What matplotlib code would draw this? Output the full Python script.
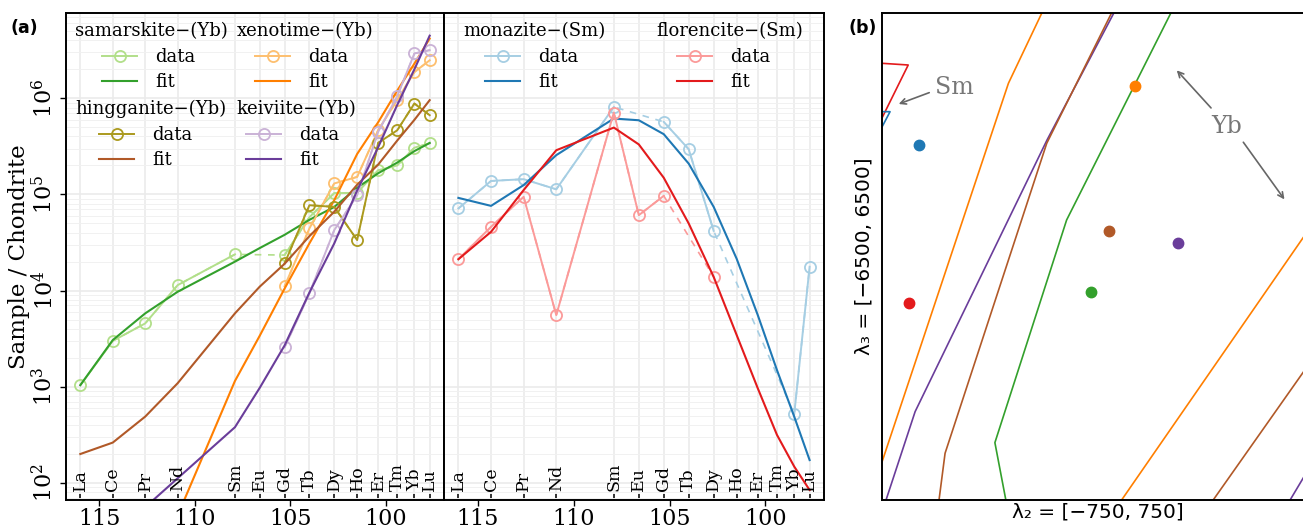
import matplotlib
matplotlib.use('Agg')
import matplotlib.pyplot as plt
import numpy as np
from matplotlib.lines import Line2D
from matplotlib.legend import Legend
from matplotlib.ticker import FixedLocator, LogLocator, NullFormatter

plt.rcParams['font.family'] = ['DejaVu Serif']
plt.rcParams['mathtext.fontset'] = 'dejavuserif'

nan = np.nan

# lanthanides and their ionic radii (pm), used as the x position
elements = ['La', 'Ce', 'Pr', 'Nd', 'Sm', 'Eu', 'Gd', 'Tb', 'Dy', 'Ho', 'Er', 'Tm', 'Yb', 'Lu']
radii = [116.0, 114.3, 112.6, 110.9, 107.9, 106.6, 105.3, 104.0, 102.7, 101.5, 100.4, 99.4, 98.5, 97.7]
radiusTicks = [115, 110, 105, 100]
decades = [1e2, 1e3, 1e4, 1e5, 1e6]

# Yb minerals (sample / chondrite)
samarskiteData = [1040, 3000, 4560, 11400, 23800, nan, 23400, 58000, 103000, 104000, 178000, 200000, 306000, 340000]
samarskiteFit = [1040, 3060, 5800, 9730, 20000, 27700, 38000, 54400, 74000, 117000, 166000, 214000, 282000, 343000]
xenotimeData = [nan, nan, nan, nan, nan, nan, 11100, 44300, 130000, 152000, 465000, 960000, 1870000, 2480000]
xenotimeFit = [0.2, 1.26, 12.6, 46, 1150, 3400, 10500, 31000, 87000, 263000, 562000, 1200000, 2290000, 4170000]
hingganiteData = [nan, nan, nan, nan, nan, nan, 19200, 77200, 74200, 33500, 343000, 464000, 881000, 666000]
hingganiteFit = [200, 263, 490, 1090, 5800, 11000, 19000, 36800, 66000, 126000, 204000, 363000, 596000, 955000]
keiviiteData = [nan, nan, nan, nan, nan, nan, 2570, 9350, 42500, 98000, 447000, 1050000, 2920000, 3160000]
keiviiteFit = [12.6, 25, 56, 112, 380, 977, 2690, 9550, 30900, 110000, 309000, 851000, 2000000, 4470000]

# Sm minerals
monaziteData = [71400, 138000, 144000, 113000, 812000, nan, 568000, 295000, 41800, nan, nan, nan, 521, 17700]
monaziteFit = [92000, 76000, 125000, 256000, 615000, 590000, 423000, 209000, 74300, 21400, 5560, 1490, 489, 173]
florenciteData = [21200, 46000, 94400, 5560, 710000, 60800, 96600, nan, 13900, nan, nan, nan, nan, nan]
florenciteFit = [21200, 40800, 111000, 288000, 495000, 331000, 149000, 49900, 13900, 3450, 964, 316, 148, 84.5]

# panel (b): contour lines in (lambda2, lambda3)
orangeLeftL2 = [-195, -311, -750]
orangeLeftL3 = [6500, 4624, -5484]
orangeRightL2 = [82, 750]
orangeRightL3 = [-6500, 922]
purpleLeftL2 = [55, -177, -635, -736]
purpleLeftL3 = [6500, 3110, -4141, -6500]
purpleRightL2 = [667, 750]
purpleRightL3 = [-6500, -5430]
brownLeftL2 = [47, -178, -531, -552]
brownLeftL3 = [6500, 3022, -5252, -6500]
brownRightL2 = [400, 750]
brownRightL3 = [-6500, -2681]
greenL2 = [253, -109, -358, -320]
greenL3 = [6500, 974, -4969, -6500]
redL2 = [-750, -659, -750]
redL3 = [5157, 5112, 3698]
blueL2 = [-750, -722, -750]
blueL3 = [3866, 3866, 3457]
# best-fit points
pointNames = ['monazite', 'xenotime', 'hingganite', 'keiviite', 'florencite', 'samarskite']
pointL2 = [-620, 128, 39, 277, -655, -25]
pointL3 = [2977, 4552, 682, 369, -1248, -955]
pointColors = ['#1f78b4', '#ff7f00', '#b15928', '#6a3d9a', '#e31a1c', '#33a02c']

GRID = '#ebebeb'


def styleReePanel(ax, showY):
    ax.set_yscale('log')
    ax.set_xlim(116.75, 96.95)
    ax.set_ylim(10 ** 1.823, 10 ** 6.886)
    ax.set_xticks(radiusTicks)
    ax.set_xticklabels([str(t) for t in radiusTicks], fontsize=16)
    ax.xaxis.set_minor_locator(FixedLocator(radii))
    ax.tick_params(axis='x', which='major', direction='out', length=4, width=1, pad=2)
    ax.tick_params(axis='x', which='minor', direction='in', length=4.5, width=1.1)
    ax.set_yticks(decades)
    ax.set_yticklabels([r'$10^{%d}$' % int(np.log10(d)) for d in decades], rotation=90, va='center', fontsize=16)
    ax.yaxis.set_minor_locator(LogLocator(base=10, subs=np.arange(2, 10)))
    ax.yaxis.set_minor_formatter(NullFormatter())
    ax.tick_params(axis='y', which='minor', length=0)
    ax.tick_params(axis='y', which='major', length=4, width=1, pad=2)
    if not showY:
        ax.tick_params(axis='y', which='both', left=False, labelleft=False)
    ax.xaxis.grid(True, which='minor', color=GRID, lw=1.2)
    ax.yaxis.grid(True, which='major', color=GRID, lw=1.2)
    ax.yaxis.grid(True, which='minor', color='#f1f1f1', lw=0.7)
    ax.set_axisbelow(True)
    for s in ax.spines.values():
        s.set_linewidth(1.4)
    for r, el in zip(radii, elements):
        ax.text(r, 0.018, el, transform=ax.get_xaxis_transform(), rotation=90,
                ha='center', va='bottom', fontsize=12.5)


def plotGroup(ax, data, fit, dataColor, fitColor):
    r = np.array(radii)
    data = np.array(data, dtype=float)
    ok = ~np.isnan(data)
    # dashed link across missing elements
    ax.plot(r[ok], data[ok], color=dataColor, lw=1.2, ls=(0, (4, 4)))
    ax.plot(r, data, color=dataColor, lw=1.4, marker='o', mfc='none', ms=8, mew=1.3)
    ax.plot(r, fit, color=fitColor, lw=1.5)


def addGroup(ax, title, tx, ty, lx, ly, dataColor, fitColor):
    ax.text(tx, ty, title, transform=ax.transAxes, fontsize=13, ha='left', va='center')
    hData = Line2D([], [], color=dataColor, lw=1.4, marker='o', mfc='none', ms=8, mew=1.3)
    hFit = Line2D([], [], color=fitColor, lw=1.5)
    leg = Legend(ax, [hData, hFit], ['data', 'fit'], loc='upper left', bbox_to_anchor=(lx, ly),
                 frameon=False, borderpad=0, borderaxespad=0, handlelength=1.95,
                 handletextpad=1.0, labelspacing=0.4, fontsize=13, numpoints=1)
    ax.add_artist(leg)


def main():
    fig = plt.figure(figsize=(13.03, 5.32), dpi=100)
    axL = fig.add_axes([66 / 1303, 32 / 532, 378 / 1303, 487 / 532])
    axR = fig.add_axes([444 / 1303, 32 / 532, 380 / 1303, 487 / 532])
    axB = fig.add_axes([882 / 1303, 32 / 532, 432 / 1303, 487 / 532])

    styleReePanel(axL, True)
    styleReePanel(axR, False)

    plotGroup(axL, samarskiteData, samarskiteFit, '#b2df8a', '#33a02c')
    plotGroup(axL, xenotimeData, xenotimeFit, '#fdbf6f', '#ff7f00')
    plotGroup(axL, hingganiteData, hingganiteFit, '#ab9a1e', '#b15928')
    plotGroup(axL, keiviiteData, keiviiteFit, '#cab2d6', '#6a3d9a')
    plotGroup(axR, monaziteData, monaziteFit, '#a6cee3', '#1f78b4')
    plotGroup(axR, florenciteData, florenciteFit, '#fb9a99', '#e31a1c')

    addGroup(axL, 'samarskite\u2212(Yb)', 0.024, 0.963, 0.095, 0.928, '#b2df8a', '#33a02c')
    addGroup(axL, 'xenotime\u2212(Yb)', 0.452, 0.963, 0.50, 0.928, '#fdbf6f', '#ff7f00')
    addGroup(axL, 'hingganite\u2212(Yb)', 0.024, 0.803, 0.088, 0.768, '#ab9a1e', '#b15928')
    addGroup(axL, 'keiviite\u2212(Yb)', 0.452, 0.803, 0.476, 0.768, '#cab2d6', '#6a3d9a')
    addGroup(axR, 'monazite\u2212(Sm)', 0.05, 0.963, 0.108, 0.928, '#a6cee3', '#1f78b4')
    addGroup(axR, 'florencite\u2212(Sm)', 0.558, 0.963, 0.613, 0.928, '#fb9a99', '#e31a1c')

    axL.set_ylabel('Sample / Chondrite', fontsize=16.5, labelpad=1)

    # panel (b)
    lw = 1.2
    axB.plot(orangeLeftL2, orangeLeftL3, color='#ff7f00', lw=lw)
    axB.plot(orangeRightL2, orangeRightL3, color='#ff7f00', lw=lw)
    axB.plot(purpleLeftL2, purpleLeftL3, color='#6a3d9a', lw=lw)
    axB.plot(purpleRightL2, purpleRightL3, color='#6a3d9a', lw=lw)
    axB.plot(brownLeftL2, brownLeftL3, color='#b15928', lw=lw)
    axB.plot(brownRightL2, brownRightL3, color='#b15928', lw=lw)
    axB.plot(greenL2, greenL3, color='#33a02c', lw=lw)
    axB.plot(redL2, redL3, color='#e31a1c', lw=lw)
    axB.plot(blueL2, blueL3, color='#1f78b4', lw=lw)
    for x, y, c in zip(pointL2, pointL3, pointColors):
        axB.plot(x, y, 'o', color=c, ms=7.5)
    axB.set_xlim(-750, 750)
    axB.set_ylim(-6500, 6500)
    axB.set_xticks([])
    axB.set_yticks([])
    for s in axB.spines.values():
        s.set_linewidth(1.4)
    axB.set_xlabel('\u03bb\u2082 = [\u2212750, 750]', family='DejaVu Sans', fontsize=14.5, labelpad=2)
    axB.set_ylabel('\u03bb\u2083 = [\u22126500, 6500]', family='DejaVu Sans', fontsize=14.5, labelpad=6)

    grey = '#666666'
    axB.annotate('', xy=(-701, 4045), xytext=(-577, 4400),
                 arrowprops=dict(arrowstyle='->', color=grey, lw=1.2))
    axB.text(-566, 4498, 'Sm', color='#777777', fontsize=17, ha='left', va='center')
    axB.annotate('', xy=(267, 5024), xytext=(399, 3911),
                 arrowprops=dict(arrowstyle='->', color=grey, lw=1.2))
    axB.annotate('', xy=(653, 1464), xytext=(499, 3110),
                 arrowprops=dict(arrowstyle='->', color=grey, lw=1.2))
    axB.text(447, 3465, 'Yb', color='#777777', fontsize=17, ha='center', va='center')

    fig.text(10 / 1303, 1 - 28 / 532, '(a)', family='DejaVu Sans', fontweight='bold', fontsize=12.5, va='center')
    fig.text(848 / 1303, 1 - 28 / 532, '(b)', family='DejaVu Sans', fontweight='bold', fontsize=12.5, va='center')

    fig.savefig('out.png', dpi=100)


if __name__ == "__main__":
    main()
